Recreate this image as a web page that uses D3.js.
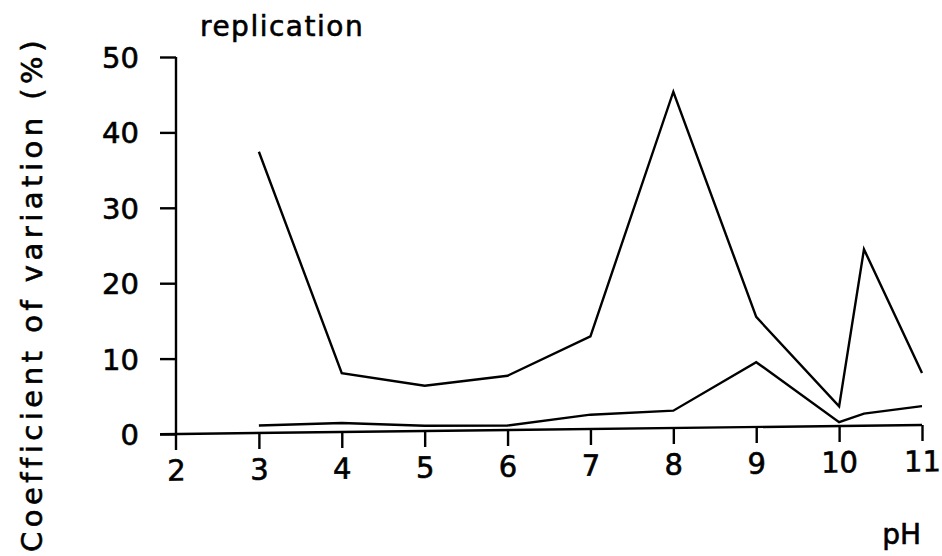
<!DOCTYPE html>
<html><head><meta charset="utf-8">
<script src="https://cdn.jsdelivr.net/npm/d3@7"></script>
<style>
body{margin:0;background:#fff;}
svg{display:block;}
text{font-family:"DejaVu Sans",sans-serif;fill:#000;stroke:#000;stroke-width:0.6px;}
</style></head>
<body>
<svg id="chart" width="942" height="556"></svg>
<script>
const pH = [3, 4, 5, 6, 7, 8, 9, 10, 10.3, 11];
const cvHigh = [37.3, 7.8, 6.0, 7.2, 12.3, 44.6, 14.6, 2.6, 23.4, 6.9];
const cvLow = [1.0, 1.2, 0.7, 0.6, 1.9, 2.3, 8.6, 0.5, 1.6, 2.5];
const xTicks = [2, 3, 4, 5, 6, 7, 8, 9, 10, 11];
const yTicks = [0, 10, 20, 30, 40, 50];
const title = "replication";
const yTitle = "Coefficient of variation (%)";
const xTitle = "pH";

const svg = d3.select("#chart");
const x = d3.scaleLinear().domain([2, 11]).range([176, 922]);
const y = d3.scaleLinear().domain([0, 50]).range([434, 57]);

// y axis
const yAxis = svg.append("g").attr("transform", `translate(${x(2)},0)`)
  .call(d3.axisLeft(y).tickValues(yTicks).tickSize(16).tickPadding(21).tickSizeOuter(0));
yAxis.select(".domain").remove();
yAxis.selectAll(".tick line").attr("stroke", "#000").attr("stroke-width", 2.4);
yAxis.selectAll(".tick text").attr("font-size", 29).attr("dy", "0.36em");
yAxis.append("line").attr("x1", 0).attr("x2", 0).attr("y1", y(50)).attr("y2", y(0) + 16)
  .attr("stroke", "#000").attr("stroke-width", 2.4);

// plot group (slightly sheared like the scan)
const plot = svg.append("g")
  .attr("transform", `translate(${x(2)},${y(0)}) skewY(-0.69) translate(${-x(2)},${-y(0)})`);

const xAxis = plot.append("g").attr("transform", `translate(0,${y(0)})`)
  .call(d3.axisBottom(x).tickValues(xTicks).tickSize(16).tickPadding(10).tickSizeOuter(0));
xAxis.select(".domain").remove();
xAxis.selectAll(".tick line").attr("stroke", "#000").attr("stroke-width", 2.4);
xAxis.selectAll(".tick text").attr("font-size", 29);
xAxis.selectAll(".tick").filter(d => d === 2).select("line").remove();
xAxis.append("line").attr("x1", x(2) - 16).attr("x2", x(11)).attr("y1", 0).attr("y2", 0)
  .attr("stroke", "#000").attr("stroke-width", 2.4);

const line = d3.line().x((d, i) => x(pH[i])).y(d => y(d));
[cvHigh, cvLow].forEach(s => {
  plot.append("path").datum(s).attr("d", line)
    .attr("fill", "none").attr("stroke", "#000").attr("stroke-width", 2.4)
    .attr("stroke-linejoin", "miter");
});

svg.append("text").attr("x", 200).attr("y", 36).attr("font-size", 28)
  .attr("letter-spacing", 1.5).text(title);
svg.append("text").attr("transform", "translate(42,294) rotate(-90)")
  .attr("text-anchor", "middle").attr("font-size", 29).attr("letter-spacing", 4.5).text(yTitle);
svg.append("text").attr("x", 921).attr("y", 544).attr("text-anchor", "end")
  .attr("font-size", 28).text(xTitle);
</script>
</body></html>
